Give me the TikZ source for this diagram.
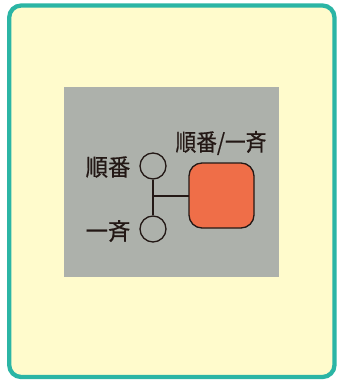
\documentclass[tikz,border=0pt]{standalone}
\usepackage{fontspec}
\newfontfamily\cjk[FakeBold=0.6]{Noto Sans CJK JP}
\definecolor{teal1}{HTML}{2BB5A5}
\definecolor{cream}{HTML}{FFFBCC}
\definecolor{grayb}{HTML}{ADB1AB}
\definecolor{orng}{HTML}{EF6E48}
\definecolor{ink}{HTML}{231815}
\tikzset{
  frame/.style={draw=teal1,line width=4.3pt,fill=cream,rounded corners=12pt},
  panel/.style={fill=grayb},
  sw/.style={draw=ink,line width=1.3pt,circle,minimum size=26pt,inner sep=0pt},
  lamp/.style={draw=ink,line width=1.3pt,fill=orng,rounded corners=13pt},
  lbl/.style={font=\cjk\fontsize{23.5}{23.5}\selectfont,text=ink,inner sep=0pt},
  wire/.style={draw=ink,line width=1.3pt}
}
\begin{document}
\begin{tikzpicture}[x=1pt,y=-1pt]
\useasboundingbox (0,0) rectangle (337,381);
\fill[white] (0,0) rectangle (337,381);
\draw[frame] (9.2,5.5) rectangle (334.5,377);
\fill[panel] (64,87) rectangle (279,277);
\node[sw] (s1) at (153,166) {};
\node[sw] (s2) at (153,229) {};
\draw[lamp] (189,163) rectangle (254,228);
\coordinate (lampL) at (189,196);
\coordinate (j) at (153,196);
\draw[wire] (s1.south) -- (s2.north);
\draw[wire] (j) -- (lampL);
\node[lbl,xscale=0.95] (t1) at (108,167) {順番};
\node[lbl,xscale=0.95] (t2) at (108,231) {一斉};
\node[lbl,xscale=0.88] (t3) at (221,143) {順番/一斉};
\end{tikzpicture}
\end{document}
